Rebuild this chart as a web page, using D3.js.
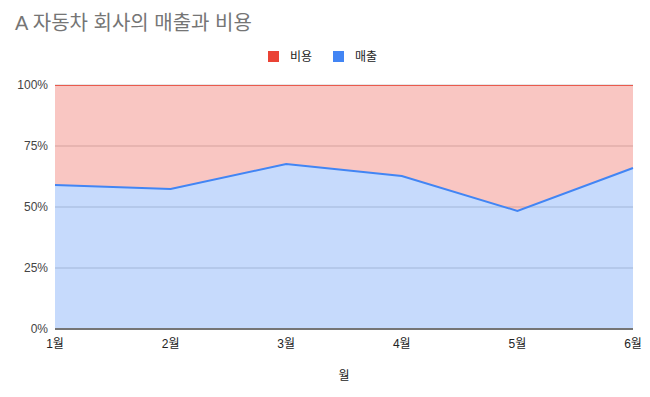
<!DOCTYPE html>
<html>
<head>
<meta charset="utf-8">
<script src="https://cdn.jsdelivr.net/npm/d3@7"></script>
<style>
  body { margin: 0; background: #fff; }
  text { font-family: "Liberation Sans", Arial, "Noto Sans CJK KR", sans-serif; }
</style>
</head>
<body>
<div id="chart-area"></div>
<script>
// data
var months = ["1월", "2월", "3월", "4월", "5월", "6월"];
var revenue = [59, 57.4, 67.6, 62.7, 48.4, 66];
var cost = [41, 42.6, 32.4, 37.3, 51.6, 34];
var yTicks = [0, 0.25, 0.5, 0.75, 1];

var margin = { left: 55, top: 85, right: 17, bottom: 68 };
var width = 650 - margin.left - margin.right;
var height = 397 - margin.top - margin.bottom;

var svg = d3.select("#chart-area")
    .append("svg")
    .attr("width", 650)
    .attr("height", 397);

// title
svg.append("text")
    .attr("x", 15)
    .attr("y", 30)
    .attr("fill", "#757575")
    .attr("style", "font-size: 20px")
    .text("A 자동차 회사의 매출과 비용");

// legend
var legend = [
    { name: "비용", color: "#ea4335", x: 268 },
    { name: "매출", color: "#4285f4", x: 333 }
];
legend.forEach(function (l) {
    svg.append("rect")
        .attr("x", l.x).attr("y", 51)
        .attr("width", 11).attr("height", 11)
        .attr("fill", l.color);
    svg.append("text")
        .attr("x", l.x + 22).attr("y", 61)
        .attr("fill", "#222")
        .attr("style", "font-size: 12px")
        .text(l.name);
});

var g = svg.append("g")
    .attr("transform", "translate(" + margin.left + "," + margin.top + ")");

svg.append("defs").append("clipPath")
    .attr("id", "plot-clip")
    .append("rect")
    .attr("x", 0).attr("y", 0)
    .attr("width", width + 1).attr("height", height);

var rows = months.map(function (m, i) {
    return { month: m, revenue: revenue[i], cost: cost[i] };
});

var stack = d3.stack()
    .keys(["revenue", "cost"])
    .offset(d3.stackOffsetExpand);
var series = stack(rows);

var x = d3.scalePoint()
    .domain(months)
    .range([0, width]);

var y = d3.scaleLinear()
    .domain([0, 1])
    .range([height, 0]);

// gridlines
g.selectAll(".grid")
    .data(yTicks.slice(1))
    .enter()
    .append("line")
    .attr("x1", 0).attr("x2", width)
    .attr("y1", d => y(d)).attr("y2", d => y(d))
    .attr("stroke", "#cccccc")
    .attr("stroke-width", 1);

var colors = { revenue: "#4285f4", cost: "#ea4335" };

var area = d3.area()
    .x(d => x(d.data.month))
    .y0(d => y(d[0]))
    .y1(d => y(d[1]));

var line = d3.line()
    .x(d => x(d.data.month))
    .y(d => y(d[1]));

g.selectAll(".area")
    .data(series)
    .enter()
    .append("path")
    .attr("d", area)
    .attr("fill", d => colors[d.key])
    .attr("fill-opacity", 0.3);

// baseline
g.append("line")
    .attr("x1", 0).attr("x2", width)
    .attr("y1", height).attr("y2", height)
    .attr("stroke", "#757575")
    .attr("stroke-width", 2);

g.append("g")
    .attr("clip-path", "url(#plot-clip)")
    .selectAll(".line")
    .data(series)
    .enter()
    .append("path")
    .attr("d", line)
    .attr("fill", "none")
    .attr("stroke", d => colors[d.key])
    .attr("stroke-opacity", d => d.key == "cost" ? 0.8 : 1)
    .attr("stroke-width", 2);

// y labels
g.selectAll(".ylabel")
    .data(yTicks)
    .enter()
    .append("text")
    .attr("x", -7)
    .attr("y", d => y(d) + 4)
    .attr("text-anchor", "end")
    .attr("fill", "#444")
    .attr("style", "font-size: 12px")
    .text(d3.format(".0%"));

// x labels
g.selectAll(".xlabel")
    .data(months)
    .enter()
    .append("text")
    .attr("x", d => x(d))
    .attr("y", height + 19)
    .attr("text-anchor", "middle")
    .attr("fill", "#222")
    .attr("style", "font-size: 12px")
    .text(d => d);

// x axis title
g.append("text")
    .attr("x", width / 2)
    .attr("y", height + 51)
    .attr("text-anchor", "middle")
    .attr("fill", "#222")
    .attr("style", "font-size: 12px")
    .text("월");
</script>
</body>
</html>
